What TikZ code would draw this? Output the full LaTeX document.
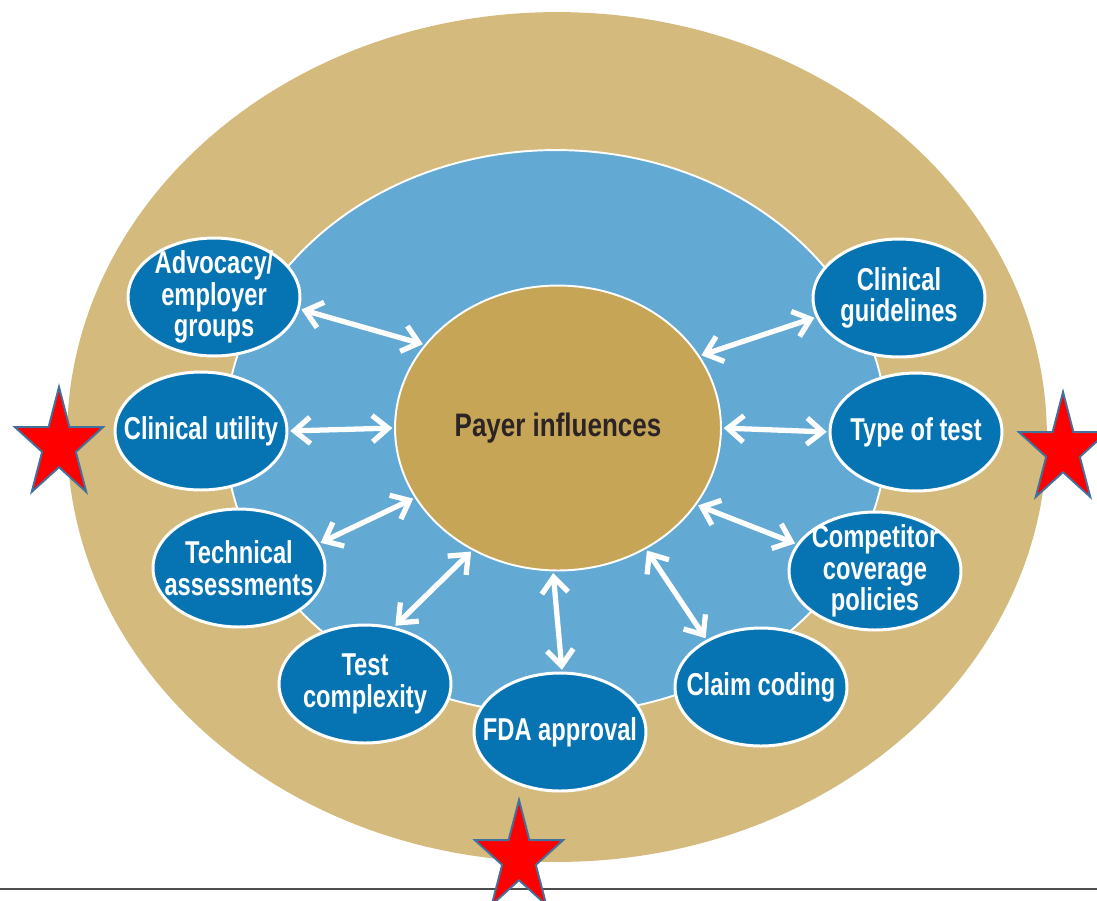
\documentclass[tikz,border=0pt]{standalone}
\usepackage{fontspec}
\newfontfamily\condfont{Liberation Sans}[FakeStretch=0.75]
\newfontfamily\hubfont{Liberation Sans}[FakeStretch=0.8]
\usetikzlibrary{shapes.geometric,arrows.meta}
\definecolor{sand}{RGB}{212,186,124}
\definecolor{skyblue}{RGB}{98,169,212}
\definecolor{deepblue}{RGB}{6,115,179}
\definecolor{gold}{RGB}{198,166,86}
\definecolor{ink}{RGB}{43,35,38}
\definecolor{staredge}{RGB}{65,113,156}
\begin{document}
\begin{tikzpicture}[x=0.02cm, y=-0.02cm,
		f/.style = {ellipse, draw=white, line width=1.7pt, fill=deepblue, text=white,
			minimum width=3.44cm, minimum height=2.36cm, inner sep=-12pt, align=center,
			font=\condfont\bfseries\fontsize{18}{18}\selectfont},
		link/.style = {draw=white, line width=3pt,
			{Straight Barb[length=9pt,width=15pt]}-{Straight Barb[length=9pt,width=15pt]},
			shorten <=1pt, shorten >=1pt},
		rs/.style = {star, star points=5, star point ratio=2.618, minimum size=2.32cm,
			inner sep=0pt, fill=red, draw=staredge, line width=1.1pt, xscale=0.8}]
	\useasboundingbox (0,0) rectangle (1097,900);
	\clip (0,0) rectangle (1097,900);
	% rings
	\fill[sand] (557,437) ellipse [x radius=9.8cm, y radius=8.5cm];
	\draw[white, line width=1.1pt, fill=skyblue] (556,432) ellipse [x radius=6.62cm, y radius=5.64cm];
	\node[ellipse, draw=white, line width=1.1pt, fill=gold, text=ink, minimum width=6.52cm,
		minimum height=5.7cm, font=\hubfont\bfseries\fontsize{18.5}{20}\selectfont] at (558,428) (payer) {Payer influences};
	% influences
	\node[f] at (214,297) (adv) {Advocacy/\\employer\\groups};
	\node[f] at (201,431) (util) {Clinical utility};
	\node[f] at (239,568) (tech) {Technical\\assessments};
	\node[f] at (365,684) (cplx) {Test\\complexity};
	\node[f] at (560,732) (fda) {FDA approval};
	\node[f] at (761,687) (claim) {Claim coding};
	\node[f] at (875,571) (comp) {Competitor\\coverage\\policies};
	\node[f] at (916,432) (kind) {Type of test};
	\node[f] at (899,298) (guide) {Clinical\\guidelines};
	\draw[link] (adv.-8) -- (payer.148);
	\draw[link] (util.0) -- (payer.180);
	\draw[link] (tech.17) -- (payer.206);
	\draw[link] (cplx.63) -- (payer.235);
	\draw[link] (fda.88) -- (payer.268);
	\draw[link] (claim.139) -- (payer.306);
	\draw[link] (comp.161) -- (payer.331);
	\draw[link] (kind.180) -- (payer.0);
	\draw[link] (guide.193) -- (payer.27);
	% rule and stars
	\draw[line width=1.2pt, black!70] (0,889) -- (1097,889);
	\node[rs] at (59,445) (s1) {};
	\node[rs] at (1063,450) (s2) {};
	\node[rs] at (519,858) (s3) {};
\end{tikzpicture}
\end{document}
